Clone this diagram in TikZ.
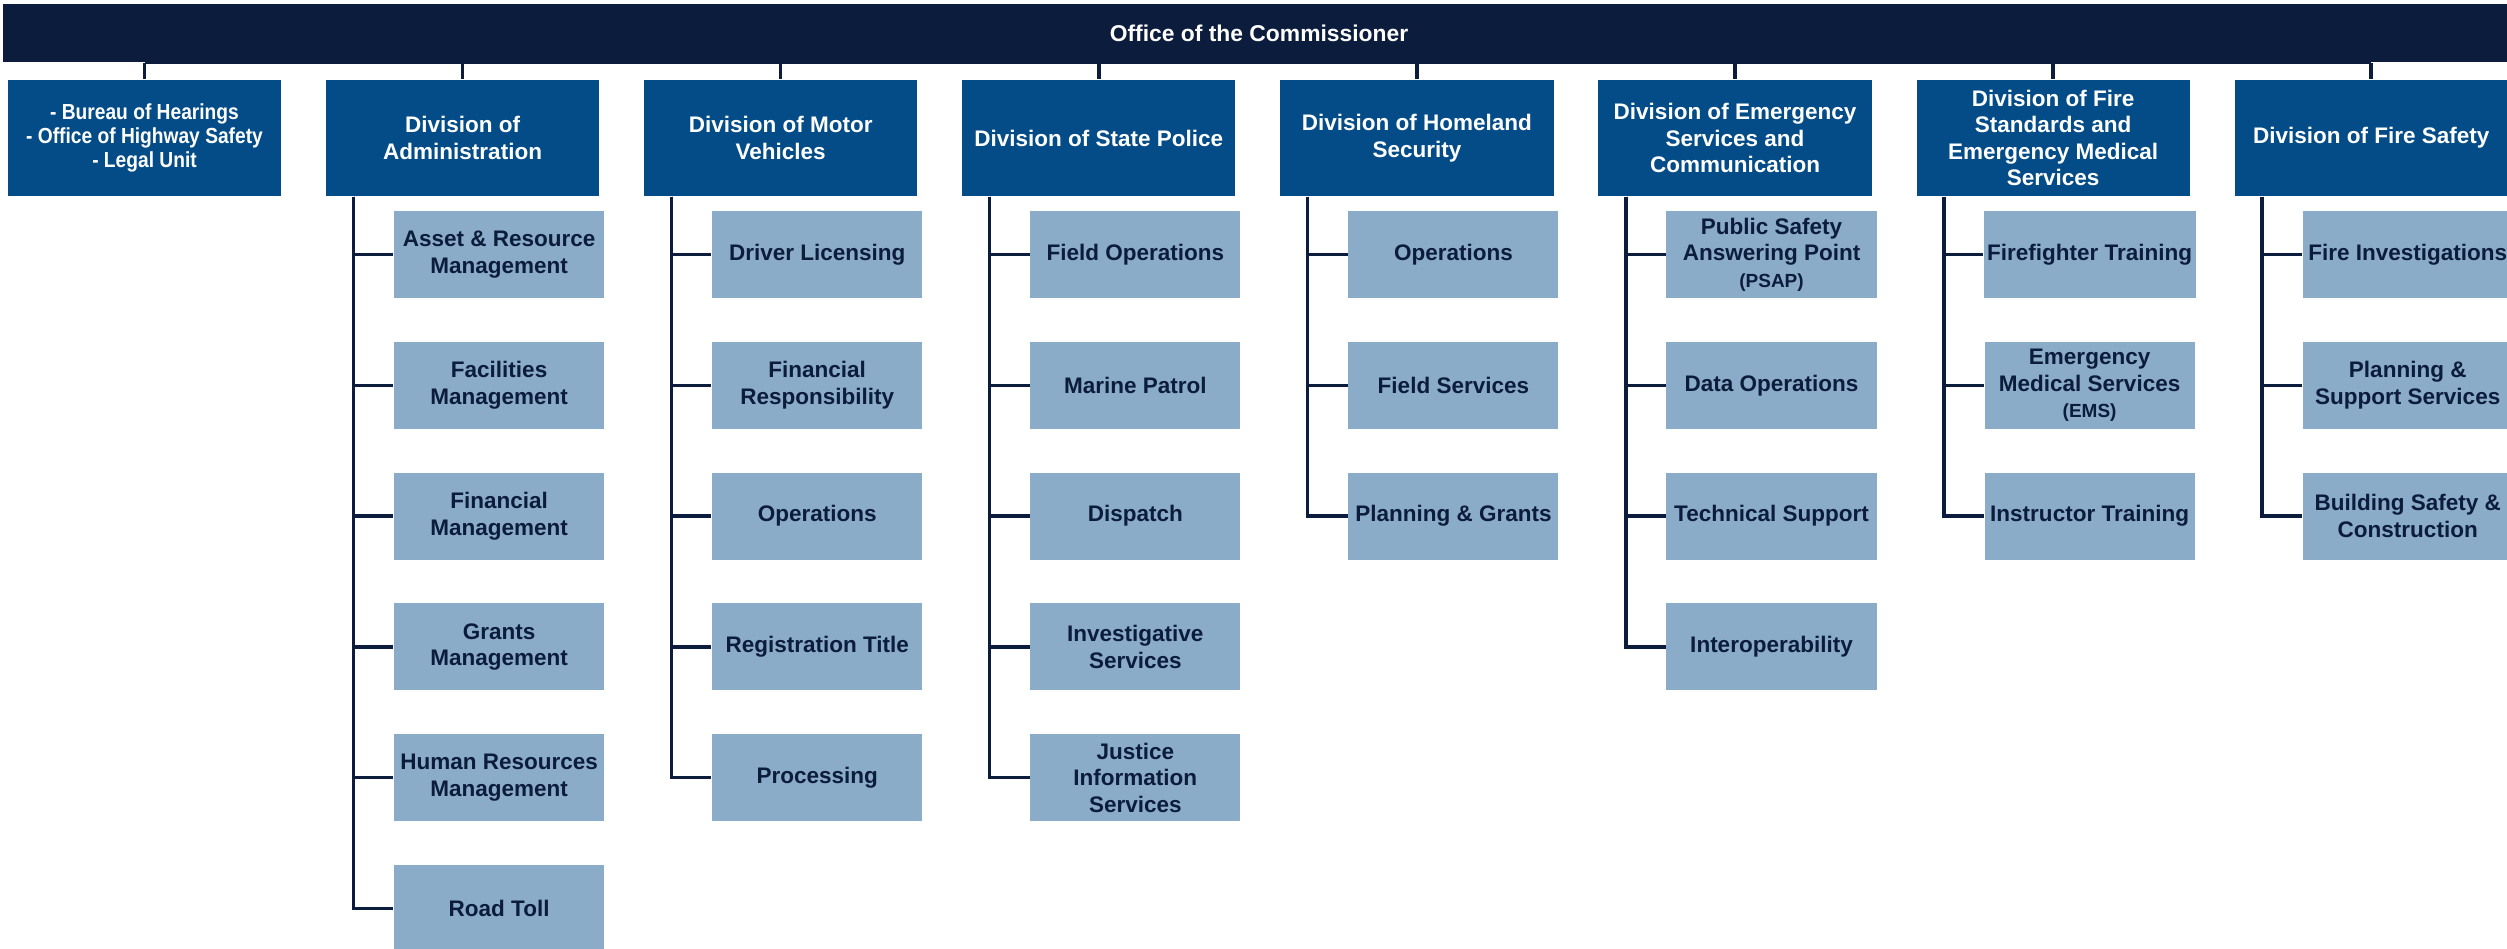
\documentclass[tikz,border=0pt]{standalone}
\usepackage{fontspec}
\setmainfont{Liberation Sans}
\newfontfamily\narrowfont[FakeStretch=0.88]{Liberation Sans}

\definecolor{navy}{HTML}{0C1C3C}
\definecolor{divblue}{HTML}{034C87}
\definecolor{unitblue}{HTML}{8AACC8}

\tikzset{
    chief/.style={fill=navy, text=white, minimum width=25.1cm, minimum height=0.58cm,
        inner sep=0pt, font=\fontsize{6.5}{7.5}\selectfont\bfseries},
    divbox/.style={fill=divblue, text=white, minimum width=2.73cm, minimum height=1.16cm,
        inner sep=1pt, align=center, font=\fontsize{6.4}{7.5}\selectfont\bfseries},
    unitbox/.style={fill=unitblue, text=navy, minimum width=2.10cm, minimum height=0.87cm,
        inner sep=1pt, align=center, font=\fontsize{6.4}{7.5}\selectfont\bfseries},
    link/.style={draw=navy, line width=1pt},
}

\begin{document}
\begin{tikzpicture}[x=0.01cm, y=-0.01cm]
    \useasboundingbox (0,0) rectangle (2507,949);

    % top of the chart
    \node[chief] (office) at (1259,33) {Office of the Commissioner};

    % divisions
    \node[divbox, font=\narrowfont\fontsize{6.2}{6.9}\selectfont\bfseries] (bureaus) at (144.5,138)
        {- Bureau of Hearings\\- Office of Highway Safety\\- Legal Unit};
    \node[divbox] (admin) at (462.6,138) {Division of\\Administration};
    \node[divbox] (motor) at (780.7,138) {Division of Motor\\Vehicles};
    \node[divbox] (police) at (1098.8,138) {Division of State Police};
    \node[divbox] (homeland) at (1416.9,138) {Division of Homeland\\Security};
    \node[divbox] (emergency) at (1735,138) {Division of Emergency\\Services and\\Communication};
    \node[divbox] (firestd) at (2053.1,138) {Division of Fire\\Standards and\\Emergency Medical\\Services};
    \node[divbox] (firesafety) at (2371.2,138) {Division of Fire Safety};

    \draw[link] (office.south -| bureaus.north) -- (office.south -| firesafety.north);
    \foreach \d in {bureaus,admin,motor,police,homeland,emergency,firestd,firesafety}
        \draw[link] (office.south -| \d.north) -- (\d.north);

    % units
    \foreach \txt [count=\j] in {{Asset \& Resource\\Management}, {Facilities\\Management},
        {Financial\\Management}, {Grants\\Management}, {Human Resources\\Management}, {Road Toll}}
        \node[unitbox] (admin-\j) at (499.1,{254.5+130.8*(\j-1)}) {\txt};
    \foreach \txt [count=\j] in {{Driver Licensing}, {Financial\\Responsibility}, {Operations},
        {Registration Title}, {Processing}}
        \node[unitbox] (motor-\j) at (817.2,{254.5+130.8*(\j-1)}) {\txt};
    \foreach \txt [count=\j] in {{Field Operations}, {Marine Patrol}, {Dispatch},
        {Investigative\\Services}, {Justice\\Information\\Services}}
        \node[unitbox] (police-\j) at (1135.3,{254.5+130.8*(\j-1)}) {\txt};
    \foreach \txt [count=\j] in {{Operations}, {Field Services}, {Planning \& Grants}}
        \node[unitbox] (homeland-\j) at (1453.4,{254.5+130.8*(\j-1)}) {\txt};
    \foreach \txt [count=\j] in {{Public Safety\\Answering Point\\{\fontsize{5.4}{6.5}\selectfont(PSAP)}},
        {Data Operations}, {Technical Support}, {Interoperability}}
        \node[unitbox] (emergency-\j) at (1771.5,{254.5+130.8*(\j-1)}) {\txt};
    \foreach \txt [count=\j] in {{Firefighter Training},
        {Emergency\\Medical Services\\{\fontsize{5.4}{6.5}\selectfont(EMS)}}, {Instructor Training}}
        \node[unitbox] (firestd-\j) at (2089.6,{254.5+130.8*(\j-1)}) {\txt};
    \foreach \txt [count=\j] in {{Fire Investigations}, {Planning \&\\Support Services},
        {Building Safety \&\\Construction}}
        \node[unitbox] (firesafety-\j) at (2407.7,{254.5+130.8*(\j-1)}) {\txt};

    % trunks
    \foreach \d/\n in {admin/6, motor/5, police/5, homeland/3, emergency/4, firestd/3, firesafety/3}
        \foreach \j in {1,...,\n}
            \draw[link] ([xshift=0.28cm]\d.south west) |- (\d-\j.west);
\end{tikzpicture}
\end{document}
